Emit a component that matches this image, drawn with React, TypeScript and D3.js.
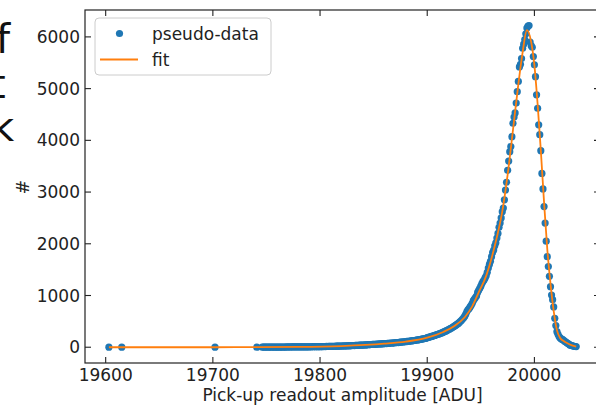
import * as d3 from 'd3';

// isolated low points far left of the distribution
const sparseX = [19603, 19615, 19702, 19741];
const sparseY = [0, 0, 0, 0];

// dense part: one bin per ADU starting here
const denseStart = 19746;
const denseY = [
  1, 2, 1, 2,
  2, 1, 3, 2, 2, 3, 2, 3, 3, 2,
  3, 3, 4, 3, 3, 4, 4, 3, 4, 5,
  4, 5, 4, 5, 5, 6, 5, 5, 6, 6,
  5, 6, 7, 6, 7, 7, 8, 7, 8, 8,
  9, 8, 9, 10, 9, 10, 11, 10, 11, 12,
  11, 12, 13, 12, 14, 13, 15, 14, 16, 15,
  17, 16, 18, 19, 18, 20, 21, 20, 22, 23,
  22, 24, 25, 24, 27, 26, 28, 29, 28, 31,
  31, 33, 32, 35, 34, 37, 36, 39, 40, 41,
  43, 42, 45, 46, 47, 49, 48, 51, 53, 54,
  55, 57, 56, 60, 61, 62, 64, 66, 65, 69,
  70, 72, 71, 75, 77, 76, 80, 82, 81, 86,
  87, 89, 91, 90, 95, 97, 99, 101, 104, 106,
  108, 112, 113, 116, 118, 122, 124, 128, 130, 134,
  138, 141, 144, 149, 152, 156, 160, 164, 169, 174,
  185, 190, 196, 202, 208, 214, 221, 228, 235, 242,
  249, 257, 265, 273, 282, 291, 300, 310, 320, 331,
  342, 353, 365, 377, 390, 403, 417, 431, 446, 461,
  480, 500, 520, 545, 570, 600, 640, 690, 725, 745,
  780, 810, 850, 900, 930, 960, 990, 1060, 1100, 1140,
  1180, 1230, 1270, 1300, 1340, 1380, 1450, 1530, 1600, 1660,
  1750, 1830, 1880, 1960, 2020, 2110, 2200, 2320, 2400, 2500,
  2620, 2690, 2850, 3040, 3190, 3420, 3600, 3780, 3880, 4070,
  4330, 4450, 4530, 4720, 4940, 5140, 5420, 5470, 5580, 5780,
  5860, 5950, 6060, 6170, 6210, 6220, 5900, 5830, 5800, 5620,
  5460, 5230, 4880, 4620, 4300, 4110, 3800, 3360, 3060, 2720,
  2400, 2050, 1750, 1560, 1370, 1170, 1010, 920, 780, 560,
  420, 300, 250, 205, 180, 160, 150, 140, 120, 105,
  90, 75, 60, 45, 38, 30, 22, 18, 14, 12,
];

// fit curve read at a few knots
const fitX = [19603, 19615, 19702, 19741, 19780, 19820, 19860, 19880, 19900, 19915, 19925, 19935, 19942, 19948, 19955, 19960, 19965, 19970, 19975, 19980, 19985, 19989, 19993, 19997, 20000, 20003, 20006, 20009, 20012, 20015, 20018, 20021, 20024, 20027, 20030, 20035, 20039];
const fitY = [0, 0, 0, 1, 5, 22, 68, 108, 185, 295, 405, 580, 790, 1060, 1380, 1720, 2130, 2620, 3330, 4200, 5080, 5700, 6130, 5900, 5450, 4700, 3800, 2800, 1900, 1230, 700, 330, 180, 125, 85, 35, 12];

const xTicks = [19600, 19700, 19800, 19900, 20000];
const yTicks = [0, 1000, 2000, 3000, 4000, 5000, 6000];
const sideLetters = ['f', 't', 'k'];

const W = 596;
const H = 405;
const font = '"DejaVu Sans", sans-serif';

const App = () => {
  const left = 85, right = 600, top = 10, bottom = 363;
  const x = d3.scaleLinear().domain([19580.7, 20061.2]).range([left, right]);
  const y = d3.scaleLinear().domain([-305, 6520]).range([bottom, top]);

  const points = [
    ...sparseX.map((v, i) => [v, sparseY[i]]),
    ...denseY.map((v, i) => [denseStart + i, v]),
  ];

  const fitLine = d3.line<number>()
    .x((_, i) => x(fitX[i]))
    .y(d => y(d))
    .curve(d3.curveMonotoneX);

  const tickLen = 6;
  const letterX = [-4, -10, -9];
  const letterY = [53, 98, 141];

  return (
    <svg width={W} height={H} style={{ position: 'absolute', left: 0, top: 0, background: '#fff' }}
      fontFamily={font}>
      <rect width={W} height={H} fill="#fff" />

      {/* cut-off letters on the left edge */}
      {sideLetters.map((s, i) => (
        <text key={s} x={letterX[i]} y={letterY[i]} fontSize={40} fill="#111">{s}</text>
      ))}

      <defs>
        <clipPath id="plot">
          <rect x={left} y={top} width={right - left} height={bottom - top} />
        </clipPath>
      </defs>

      <g clipPath="url(#plot)">
        {points.map((p, i) => (
          <circle key={i} cx={x(p[0])} cy={y(p[1])} r={3.6} fill="#1f77b4" />
        ))}
        <path d={fitLine(fitY) || ''} fill="none" stroke="#ff7f0e" strokeWidth={1.8} />
      </g>

      {/* frame */}
      <rect x={left} y={top} width={right - left} height={bottom - top} fill="none" stroke="#222" strokeWidth={1.2} />

      {/* ticks, pointing inward on all sides */}
      {xTicks.map(t => (
        <g key={t}>
          <line x1={x(t)} x2={x(t)} y1={bottom} y2={bottom - tickLen} stroke="#222" strokeWidth={1.1} />
          <line x1={x(t)} x2={x(t)} y1={top} y2={top + tickLen} stroke="#222" strokeWidth={1.1} />
          <text x={x(t)} y={381} fontSize={17} textAnchor="middle" fill="#222">{t}</text>
        </g>
      ))}
      {yTicks.map(t => (
        <g key={t}>
          <line x1={left} x2={left + tickLen} y1={y(t)} y2={y(t)} stroke="#222" strokeWidth={1.1} />
          <line x1={right} x2={right - tickLen} y1={y(t)} y2={y(t)} stroke="#222" strokeWidth={1.1} />
          <text x={80} y={y(t) + 6} fontSize={17} textAnchor="end" fill="#222">{t}</text>
        </g>
      ))}

      {/* axis labels */}
      <text x={(left + right) / 2} y={401} fontSize={17} textAnchor="middle" fill="#222">
        Pick-up readout amplitude [ADU]
      </text>
      <text transform="translate(29,187) rotate(-90)" fontSize={17} textAnchor="middle" fill="#222">#</text>

      {/* legend */}
      <rect x={95} y={18} width={176} height={57} rx={4} fill="#fff" fillOpacity={0.8} stroke="#ccc" strokeWidth={1} />
      <circle cx={119.5} cy={33.5} r={3.6} fill="#1f77b4" />
      <text x={152} y={40} fontSize={17} fill="#222">pseudo-data</text>
      <line x1={100} x2={138} y1={59.5} y2={59.5} stroke="#ff7f0e" strokeWidth={1.8} />
      <text x={152} y={66} fontSize={17} fill="#222">fit</text>
    </svg>
  );
};

export default App;
